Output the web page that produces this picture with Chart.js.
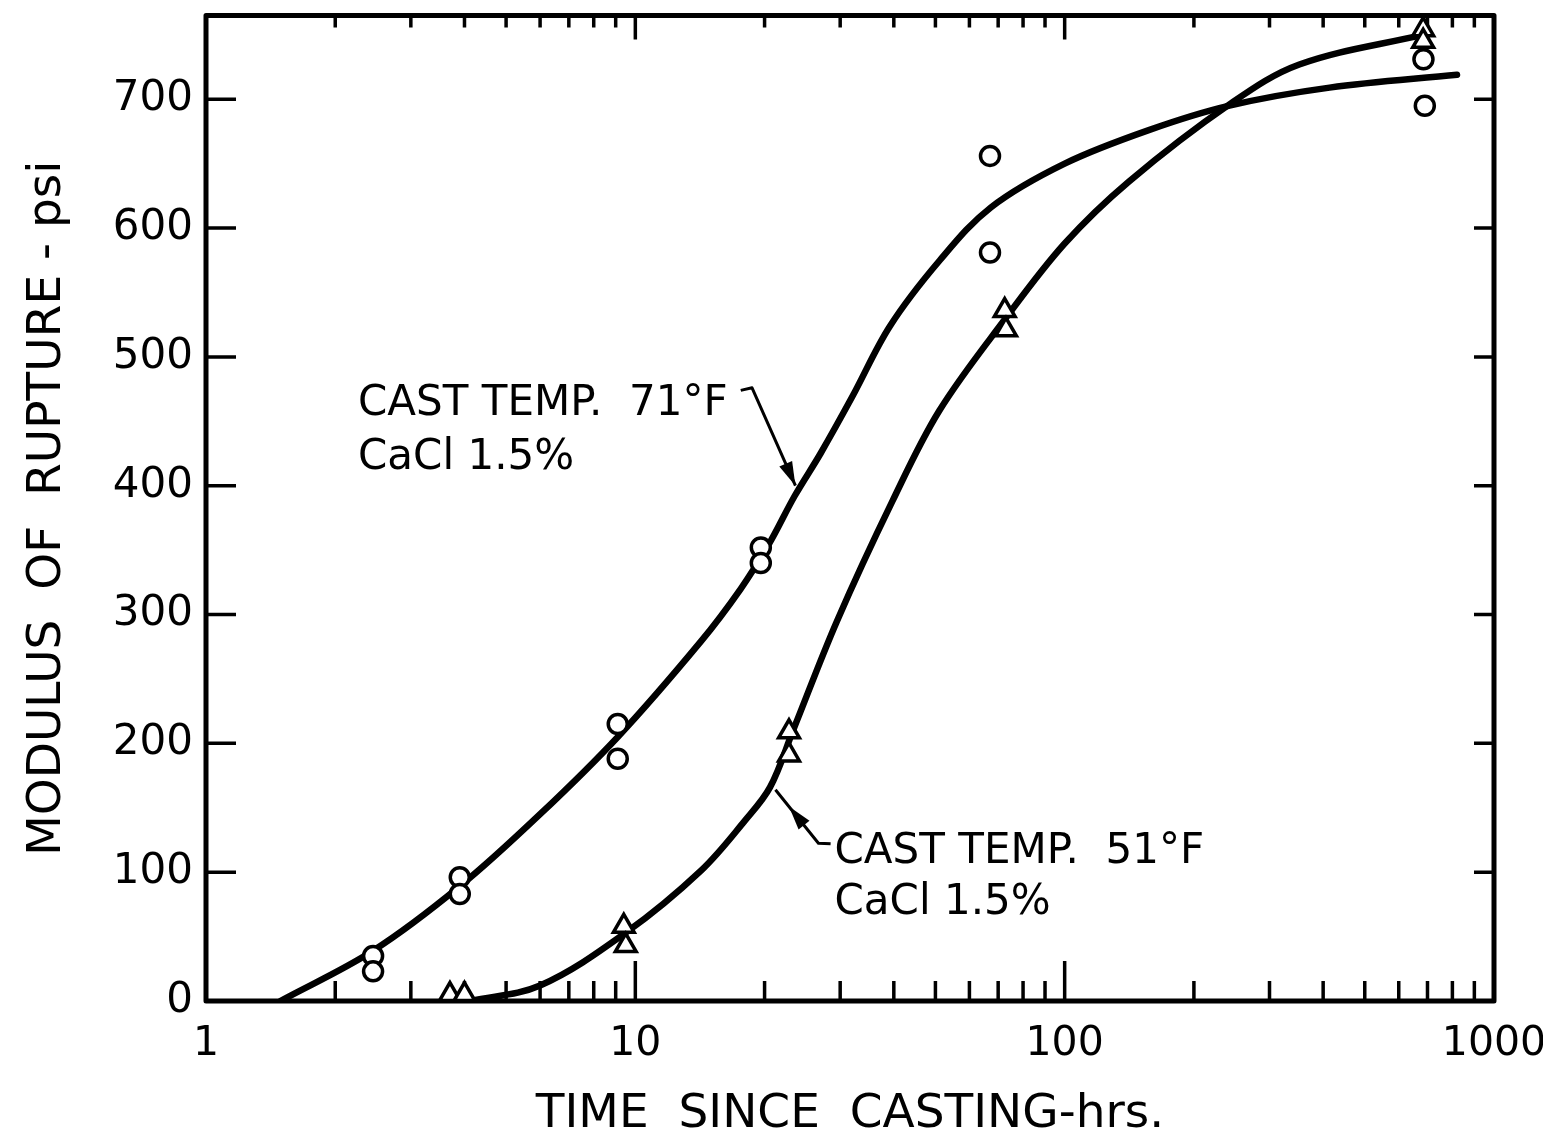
<!DOCTYPE html>
<html>
<head>
<meta charset="utf-8">
<title>Modulus of rupture vs time since casting</title>
<script src="https://cdn.jsdelivr.net/npm/chart.js@4/dist/chart.umd.min.js"></script>
<style>
  html, body { margin: 0; padding: 0; background: #fff; }
  canvas { display: block; }
</style>
</head>
<body>
<canvas id="chart" width="1543" height="1143"></canvas>
<script>
// axis ticks
const xTicks = [1, 2, 3, 4, 5, 6, 7, 8, 9, 10, 20, 30, 40, 50, 60, 70, 80, 90,
  100, 200, 300, 400, 500, 600, 700, 800, 900, 1000];
const xLabels = [1, 10, 100, 1000];
const yTicks = [0, 100, 200, 300, 400, 500, 600, 700];

// test results, cast temp 71°F (circles)
const hot71X = [2.45, 2.45, 3.9, 3.9, 9.1, 9.1, 19.6, 19.6, 67, 67, 685, 690];
const hot71Y = [35, 23, 96, 83, 215, 188, 352, 340, 656, 581, 731, 695];

// test results, cast temp 51°F (triangles)
const cold51X = [3.7, 4.0, 9.4, 9.5, 22.8, 22.8, 72.5, 73, 684, 684];
const cold51Y = [5, 5, 58, 43, 209, 191, 536, 521, 754, 745];

// faired curves
const curve71X = [1.49, 2.45, 3.9, 6.0, 9.1, 14.2, 17.6, 20.5, 23.5, 27, 32, 39.2, 51.2, 67.3, 100, 157, 242, 414, 820];
const curve71Y = [0, 39, 89, 145, 205, 279, 320, 355, 392, 425, 469, 524, 575, 616, 650, 676, 695, 709, 719];
const curve51X = [4.14, 6.0, 9.5, 14.2, 18.0, 20.6, 23.3, 29.5, 39.7, 51, 72.5, 100, 141, 242, 352, 680];
const curve51Y = [0, 12, 53, 101, 140, 166, 210, 295, 388, 458, 529, 588, 636, 696, 727, 750];

const FONT = '"DejaVu Sans", sans-serif';

function pts(xs, ys) {
  return xs.map((x, i) => ({ x, y: ys[i] }));
}

// labels and leader arrows, anchored in data units
const notes = [
  { at: [2.26, 455], lines: ["CAST TEMP.  71°F", "CaCl 1.5%"], gap: 54 },
  { at: [29.1, 107], lines: ["CAST TEMP.  51°F", "CaCl 1.5%"], gap: 51 }
];
const arrows = [
  { path: [[17.6, 474], [18.7, 476], [23.6, 400]], head: [23.6, 400] },
  { path: [[28.5, 122], [26.7, 122.5], [21.2, 164]], head: [22.8, 151] }
];

const frame = {
  id: "frame",
  beforeDatasetsDraw(chart) {
    const { ctx, chartArea: a, scales: { x, y } } = chart;
    ctx.save();
    ctx.strokeStyle = "#000";
    ctx.lineWidth = 3.5;
    ctx.beginPath();
    for (const t of x.ticks) {
      const px = x.getPixelForValue(t.value);
      if (px <= a.left + 1 || px >= a.right - 1) continue;
      const major = xLabels.includes(t.value);
      ctx.moveTo(px, a.bottom);
      ctx.lineTo(px, a.bottom - (major ? 40 : 20));
      ctx.moveTo(px, a.top);
      ctx.lineTo(px, a.top + (major ? 24 : 12));
    }
    for (const t of y.ticks) {
      const py = y.getPixelForValue(t.value);
      if (py >= a.bottom - 1) continue;
      ctx.moveTo(a.left, py);
      ctx.lineTo(a.left + 30, py);
      ctx.moveTo(a.right, py);
      ctx.lineTo(a.right - 20, py);
    }
    ctx.stroke();
    ctx.lineWidth = 5;
    ctx.lineJoin = "round";
    ctx.strokeRect(a.left, a.top, a.right - a.left, a.bottom - a.top);
    ctx.restore();
  },
  afterDatasetsDraw(chart) {
    const { ctx, scales: { x, y } } = chart;
    const px = p => [x.getPixelForValue(p[0]), y.getPixelForValue(p[1])];
    ctx.save();
    ctx.fillStyle = "#000";
    ctx.strokeStyle = "#000";
    ctx.font = "42px " + FONT;
    ctx.textBaseline = "alphabetic";
    for (const n of notes) {
      const [tx, ty] = px(n.at);
      n.lines.forEach((s, i) => ctx.fillText(s, tx, ty + i * n.gap));
    }
    ctx.lineWidth = 3;
    ctx.lineJoin = "round";
    for (const a of arrows) {
      const p = a.path.map(px);
      ctx.beginPath();
      ctx.moveTo(p[0][0], p[0][1]);
      for (let i = 1; i < p.length; i++) ctx.lineTo(p[i][0], p[i][1]);
      ctx.stroke();
      const [hx, hy] = px(a.head);
      const prev = p[p.length - 2], last = p[p.length - 1];
      const ang = Math.atan2(last[1] - prev[1], last[0] - prev[0]);
      ctx.save();
      ctx.translate(hx, hy);
      ctx.rotate(ang);
      ctx.beginPath();
      ctx.moveTo(0, 0);
      ctx.lineTo(-24, -7);
      ctx.lineTo(-24, 7);
      ctx.closePath();
      ctx.fill();
      ctx.restore();
    }
    ctx.restore();
  }
};

const curveStyle = {
  type: "line",
  borderColor: "#000",
  borderWidth: 6.5,
  pointRadius: 0,
  tension: 0.35,
  borderCapStyle: "round",
  fill: false
};

new Chart(document.getElementById("chart"), {
  type: "line",
  data: {
    datasets: [
      {
        label: "71°F tests",
        data: pts(hot71X, hot71Y),
        showLine: false,
        pointStyle: "circle",
        pointRadius: 9.5,
        pointBorderWidth: 3.5,
        pointBorderColor: "#000",
        pointBackgroundColor: "#fff",
        clip: false
      },
      {
        label: "51°F tests",
        data: pts(cold51X, cold51Y),
        showLine: false,
        pointStyle: "triangle",
        pointRadius: 12,
        pointBorderWidth: 3.5,
        pointBorderColor: "#000",
        pointBackgroundColor: "#fff",
        clip: false
      },
      { ...curveStyle, label: "71°F curve", data: pts(curve71X, curve71Y) },
      { ...curveStyle, label: "51°F curve", data: pts(curve51X, curve51Y) }
    ]
  },
  options: {
    responsive: false,
    animation: false,
    events: [],
    layout: { padding: { top: 13, right: 49, bottom: 0, left: 0 } },
    plugins: { legend: { display: false }, tooltip: { enabled: false } },
    scales: {
      x: {
        type: "logarithmic",
        min: 1,
        max: 1000,
        grid: { display: false, drawTicks: false },
        border: { display: false },
        afterBuildTicks: s => { s.ticks = xTicks.map(v => ({ value: v })); },
        afterFit: s => { s.height = 142; s.paddingLeft = 0; s.paddingRight = 0; },
        ticks: {
          autoSkip: false,
          maxRotation: 0,
          padding: 19,
          color: "#000",
          font: { family: FONT, size: 41 },
          callback: v => (xLabels.includes(v) ? String(v) : "")
        },
        title: {
          display: true,
          text: "TIME  SINCE  CASTING-hrs.",
          color: "#000",
          font: { family: FONT, size: 47 },
          padding: { top: 0, bottom: 0 }
        }
      },
      y: {
        type: "linear",
        min: 0,
        max: 765,
        grid: { display: false, drawTicks: false },
        border: { display: false },
        afterBuildTicks: s => { s.ticks = yTicks.map(v => ({ value: v })); },
        afterFit: s => { s.width = 206; s.paddingTop = 0; s.paddingBottom = 0; },
        ticks: {
          padding: 13,
          color: "#000",
          font: { family: FONT, size: 42 }
        },
        title: {
          display: true,
          text: "MODULUS  OF  RUPTURE - psi",
          color: "#000",
          font: { family: FONT, size: 47 },
          padding: { top: 20, bottom: 0 }
        }
      }
    }
  },
  plugins: [frame]
});
</script>
</body>
</html>
